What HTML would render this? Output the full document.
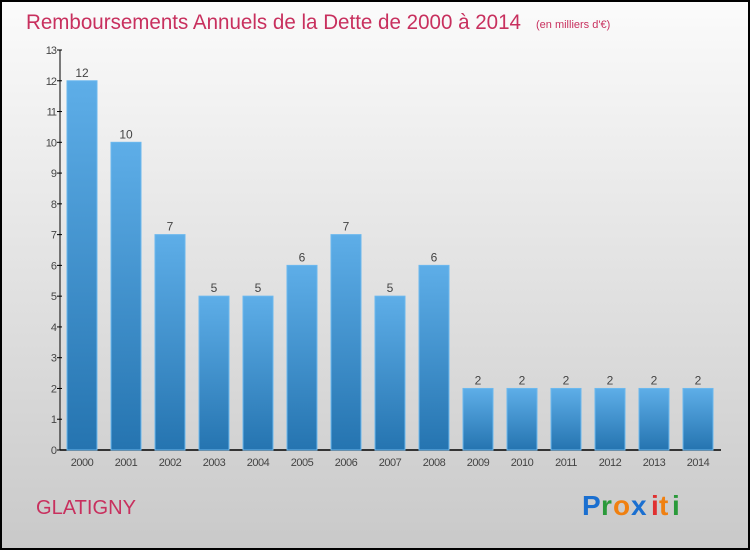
<!DOCTYPE html>
<html><head><meta charset="utf-8"><style>
html,body{margin:0;padding:0}
body{width:750px;height:550px;overflow:hidden;font-family:"Liberation Sans",sans-serif}
</style></head><body>
<svg width="750" height="550" xmlns="http://www.w3.org/2000/svg">
<defs>
<linearGradient id="bg" x1="0" y1="0" x2="0" y2="1"><stop offset="0" stop-color="#fbfbfb"/><stop offset="1" stop-color="#c9c9c9"/></linearGradient>
<linearGradient id="bar" x1="0" y1="0" x2="0" y2="1"><stop offset="0" stop-color="#5eaee8"/><stop offset="1" stop-color="#2574b0"/></linearGradient>
</defs>
<rect x="1" y="1" width="748" height="548" fill="url(#bg)" stroke="#000" stroke-width="2"/>
<text x="26" y="29" font-size="21" fill="#c8305e" textLength="495" lengthAdjust="spacingAndGlyphs">Remboursements Annuels de la Dette de 2000 à 2014</text>
<text x="536" y="28" font-size="11" fill="#c8305e">(en milliers d'€)</text>
<g id="axes"></g>
<g id="bars"></g>
<text x="36" y="514" font-size="20" fill="#c8305e" textLength="100" lengthAdjust="spacingAndGlyphs">GLATIGNY</text>
<g font-size="28" font-weight="bold" font-family="Liberation Sans,sans-serif">
<text x="582" y="515" fill="#1a6fd0">P</text><text x="601" y="515" fill="#2a9a3a">r</text><text x="613" y="515" fill="#f08010">o</text><text x="631" y="515" fill="#1a6fd0">x</text><text x="651" y="515" fill="#e03030">i</text><text x="659" y="515" fill="#f08010">t</text><text x="672" y="515" fill="#2a9a3a">i</text>
</g>
</svg>
<script>
const years=["2000","2001","2002","2003","2004","2005","2006","2007","2008","2009","2010","2011","2012","2013","2014"];
const values=[12,10,7,5,5,6,7,5,6,2,2,2,2,2,2];
const yTicks=[0,1,2,3,4,5,6,7,8,9,10,11,12,13];
const NS="http://www.w3.org/2000/svg";
const y0=450,yTop=50,yMax=13,x0=82,step=44,bw=30;
const ys=v=>y0-(v/yMax)*(y0-yTop);
const xs=i=>x0+i*step;
function mk(t,a,p){const e=document.createElementNS(NS,t);for(const k in a)e.setAttribute(k,a[k]);p.appendChild(e);return e;}
const ax=document.getElementById('axes'),bg=document.getElementById('bars');
const yl=mk('line',{x1:60,y1:yTop,x2:60,y2:y0,stroke:'#000'},ax);


const xl=mk('line',{x1:60,y1:y0,x2:721,y2:y0,stroke:'#000','stroke-width':1.5},ax);


yTicks.forEach(v=>{
  const y=ys(v);
  mk('line',{x1:57,y1:y,x2:62,y2:y,stroke:'#000'},ax);
  const t=mk('text',{x:56,y:y+4,'font-size':11,fill:'#444','text-anchor':'end','letter-spacing':'-1'},ax);
  t.textContent=v;
  
  
});
values.forEach((v,i)=>{
  const cx=xs(i),y=ys(v);
  const r=mk('rect',{x:cx-bw/2,y:y,width:bw,height:y0-y,fill:'url(#bar)',stroke:'#6bb8ee','stroke-width':1},bg);
  
  
  const l=mk('text',{x:cx,y:y-4,'font-size':12,fill:'#444','text-anchor':'middle'},bg);
  l.textContent=v;
  
  
  const xt=mk('text',{x:cx,y:466,'font-size':11,fill:'#444','text-anchor':'middle','letter-spacing':'-0.5'},bg);
  xt.textContent=years[i];
  
  
});
</script>
</body></html>
